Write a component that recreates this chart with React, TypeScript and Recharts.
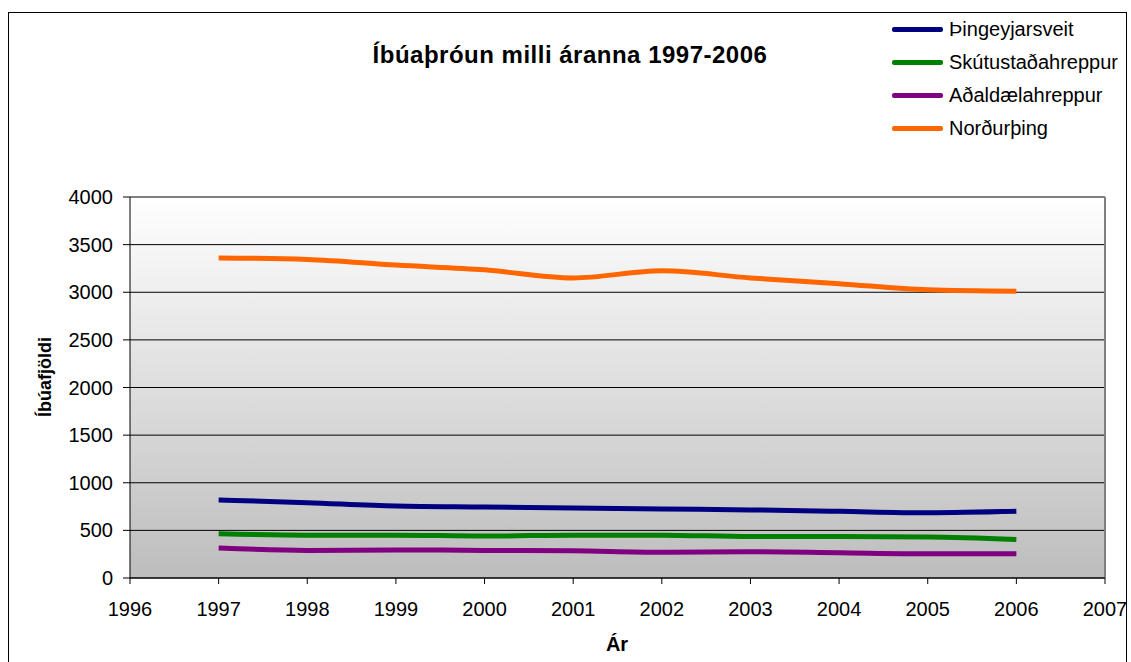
import React from "react";
import { LineChart, Line, XAxis, YAxis, CartesianGrid, ReferenceLine } from "recharts";

const years = [1997, 1998, 1999, 2000, 2001, 2002, 2003, 2004, 2005, 2006];
const thingeyjarsveit = [820, 790, 755, 745, 735, 725, 715, 700, 685, 700];
const skutustadahreppur = [465, 450, 450, 440, 450, 450, 435, 435, 430, 405];
const adaldaelahreppur = [315, 290, 295, 290, 285, 270, 275, 265, 255, 255];
const nordurthing = [3360, 3345, 3285, 3235, 3150, 3225, 3150, 3090, 3025, 3010];
const xTicks = [1996, 1997, 1998, 1999, 2000, 2001, 2002, 2003, 2004, 2005, 2006, 2007];
const yTicks = [0, 500, 1000, 1500, 2000, 2500, 3000, 3500, 4000];

const series = [
  { key: "thing", name: "Þingeyjarsveit", color: "#000080", values: thingeyjarsveit },
  { key: "skut", name: "Skútustaðahreppur", color: "#008000", values: skutustadahreppur },
  { key: "adal", name: "Aðaldælahreppur", color: "#800080", values: adaldaelahreppur },
  { key: "nord", name: "Norðurþing", color: "#FF6600", values: nordurthing },
];

const data = years.map((y, i) => {
  const row: any = { year: y };
  series.forEach((s) => (row[s.key] = s.values[i]));
  return row;
});

const font = "'Liberation Sans', Arial, sans-serif";

export default function App() {
  return (
    <div style={{ position: "absolute", left: 0, top: 0, width: 1131, height: 662, background: "#fff", fontFamily: font, overflow: "hidden" }}>
      <div style={{ position: "absolute", left: 8, top: 12, width: 1119, height: 700, border: "1px solid #000", boxSizing: "border-box" }} />
      <LineChart
        width={1131}
        height={662}
        data={data}
        margin={{ top: 197, right: 26, bottom: 54, left: 70 }}
        style={{ position: "absolute", left: 0, top: 0 }}
      >
        <defs>
          <linearGradient id="bg" x1="0" y1="0" x2="0" y2="1">
            <stop offset="0%" stopColor="#ffffff" />
            <stop offset="100%" stopColor="#bdbdbd" />
          </linearGradient>
        </defs>
        <CartesianGrid vertical={false} stroke="#000" fill="url(#bg)" fillOpacity={1} strokeDasharray="" />
        <XAxis
          dataKey="year"
          type="number"
          domain={[1996, 2007]}
          ticks={xTicks}
          interval={0}
          height={30}
          tickSize={6}
          tickMargin={18}
          stroke="#000"
          tick={{ fill: "#000", fontSize: 20, fontFamily: font }}
        />
        <YAxis
          type="number"
          domain={[0, 4000]}
          ticks={yTicks}
          interval={0}
          width={60}
          tickSize={7}
          tickMargin={10}
          stroke="#000"
          tick={{ fill: "#000", fontSize: 20, fontFamily: font }}
        />
        <ReferenceLine x={2007} stroke="#808080" strokeWidth={2} />
        {series.map((s) => (
          <Line
            key={s.key}
            type="monotone"
            dataKey={s.key}
            name={s.name}
            stroke={s.color}
            strokeWidth={5}
            dot={false}
            isAnimationActive={false}
          />
        ))}
      </LineChart>
      <div style={{ position: "absolute", left: 570, top: 55, transform: "translate(-50%, -50%)", whiteSpace: "nowrap", fontWeight: "bold", fontSize: 24, letterSpacing: 0.5, color: "#000" }}>
        Íbúaþróun milli áranna 1997-2006
      </div>
      <div style={{ position: "absolute", left: 45, top: 377, transform: "translate(-50%, -50%) rotate(-90deg)", fontWeight: "bold", fontSize: 18, whiteSpace: "nowrap", color: "#000" }}>
        Íbúafjöldi
      </div>
      <div style={{ position: "absolute", left: 617, top: 644, transform: "translate(-50%, -50%)", fontWeight: "bold", fontSize: 20, color: "#000" }}>
        Ár
      </div>
      <div style={{ position: "absolute", left: 892, top: 15 }}>
        {series.map((s, i) => (
          <div key={s.key} style={{ position: "absolute", left: 0, top: i * 33, height: 28, display: "flex", alignItems: "center", whiteSpace: "nowrap" }}>
            <div style={{ width: 51, height: 5, background: s.color, borderRadius: 2 }} />
            <span style={{ marginLeft: 6, fontSize: 20, color: "#000" }}>{s.name}</span>
          </div>
        ))}
      </div>
    </div>
  );
}
